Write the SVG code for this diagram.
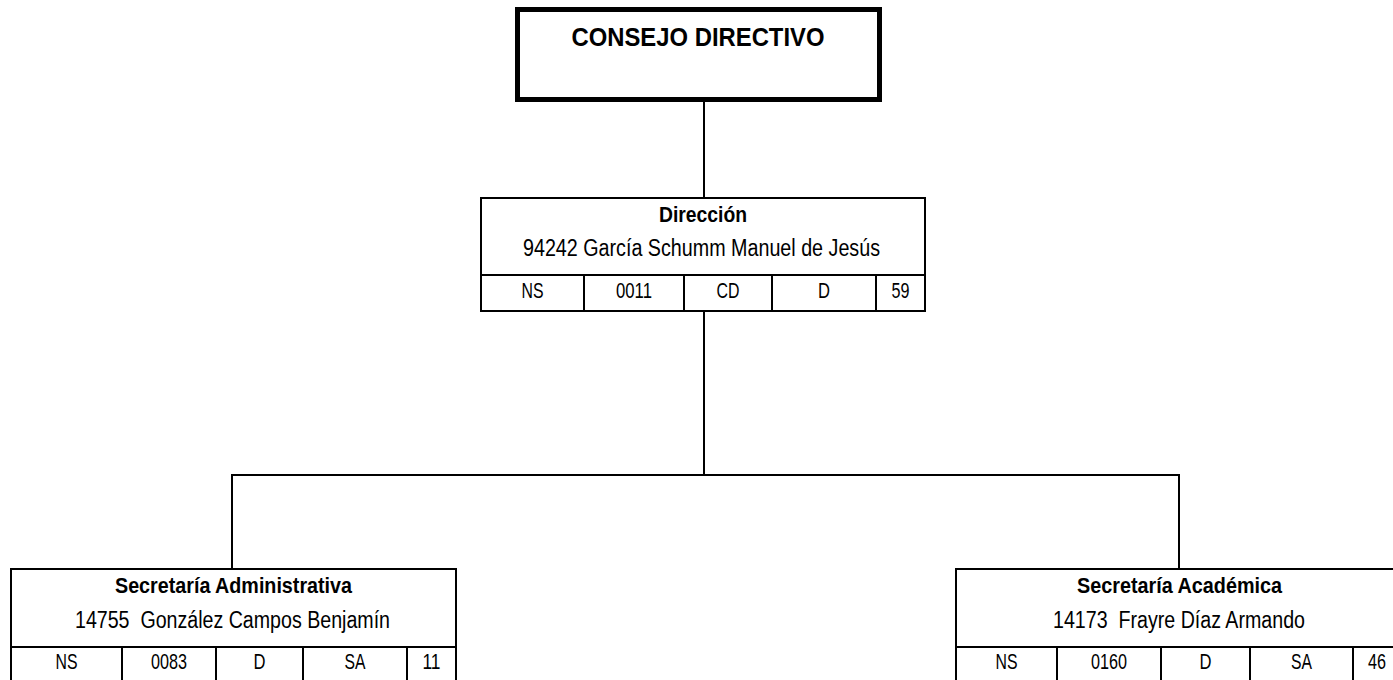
<svg xmlns="http://www.w3.org/2000/svg" width="1393" height="680" viewBox="0 0 1393 680">
<style>
  .box{fill:#fff;stroke:#000;stroke-width:2}
  .ln{stroke:#000;stroke-width:2;fill:none}
  .conn{stroke:#000;stroke-width:2;fill:none}
  text{font-family:"Liberation Sans Narrow","Liberation Sans",Arial,sans-serif;fill:#000;text-anchor:middle;white-space:pre}
  .title{font-size:25px;font-weight:bold}
  .head{font-size:22px;font-weight:bold}
  .name{font-size:23px}
  .cell{font-size:22px}
</style>
<rect width="1393" height="680" fill="#fff"/>
<g id="connectors">
  <path class="conn" d="M704,100 V198"/>
  <path class="conn" d="M704,311 V475"/>
  <path class="conn" d="M231,475 H1180"/>
  <path class="conn" d="M232,475 V569"/>
  <path class="conn" d="M1179,475 V569"/>
</g>
<g id="consejo">
  <rect x="517.5" y="9.5" width="362" height="90" fill="#fff" stroke="#000" stroke-width="5"/>
  <text class="title" x="698" y="46" textLength="253" lengthAdjust="spacingAndGlyphs">CONSEJO DIRECTIVO</text>
</g>
<g id="direccion">
  <rect class="box" x="481" y="198" width="444" height="113"/>
  <path class="ln" d="M481,275 H925 M584,275 V311 M684,275 V311 M772,275 V311 M876,275 V311"/>
  <text class="head" x="703" y="222" textLength="88" lengthAdjust="spacingAndGlyphs">Dirección</text>
  <text class="name" x="701.5" y="256" textLength="357" lengthAdjust="spacingAndGlyphs">94242 García Schumm Manuel de Jesús</text>
  <text class="cell" x="532.5" y="298" textLength="22" lengthAdjust="spacingAndGlyphs">NS</text>
  <text class="cell" x="634" y="298" textLength="36" lengthAdjust="spacingAndGlyphs">0011</text>
  <text class="cell" x="728" y="298" textLength="23" lengthAdjust="spacingAndGlyphs">CD</text>
  <text class="cell" x="824" y="298" textLength="12" lengthAdjust="spacingAndGlyphs">D</text>
  <text class="cell" x="900.5" y="298" textLength="18" lengthAdjust="spacingAndGlyphs">59</text>
</g>
<g id="sec-administrativa">
  <rect class="box" x="11" y="569" width="445" height="130"/>
  <path class="ln" d="M11,647 H456 M122,647 V690 M216,647 V690 M303,647 V690 M407,647 V690"/>
  <text class="head" x="233.5" y="593" textLength="237" lengthAdjust="spacingAndGlyphs">Secretaría Administrativa</text>
  <text class="name" x="232.5" y="628" textLength="315" lengthAdjust="spacingAndGlyphs">14755  González Campos Benjamín</text>
  <text class="cell" x="66.5" y="669" textLength="22" lengthAdjust="spacingAndGlyphs">NS</text>
  <text class="cell" x="169" y="669" textLength="36" lengthAdjust="spacingAndGlyphs">0083</text>
  <text class="cell" x="259.5" y="669" textLength="12" lengthAdjust="spacingAndGlyphs">D</text>
  <text class="cell" x="355" y="669" textLength="21" lengthAdjust="spacingAndGlyphs">SA</text>
  <text class="cell" x="431.5" y="669" textLength="18" lengthAdjust="spacingAndGlyphs">11</text>
</g>
<g id="sec-academica">
  <rect class="box" x="956" y="569" width="445" height="130"/>
  <path class="ln" d="M956,647 H1401 M1057,647 V690 M1161,647 V690 M1250,647 V690 M1353,647 V690"/>
  <text class="head" x="1179.5" y="593" textLength="205" lengthAdjust="spacingAndGlyphs">Secretaría Académica</text>
  <text class="name" x="1179" y="628" textLength="252" lengthAdjust="spacingAndGlyphs">14173  Frayre Díaz Armando</text>
  <text class="cell" x="1006.5" y="669" textLength="22" lengthAdjust="spacingAndGlyphs">NS</text>
  <text class="cell" x="1109" y="669" textLength="36" lengthAdjust="spacingAndGlyphs">0160</text>
  <text class="cell" x="1205.5" y="669" textLength="12" lengthAdjust="spacingAndGlyphs">D</text>
  <text class="cell" x="1301.5" y="669" textLength="21" lengthAdjust="spacingAndGlyphs">SA</text>
  <text class="cell" x="1377" y="669" textLength="18" lengthAdjust="spacingAndGlyphs">46</text>
</g>
</svg>
